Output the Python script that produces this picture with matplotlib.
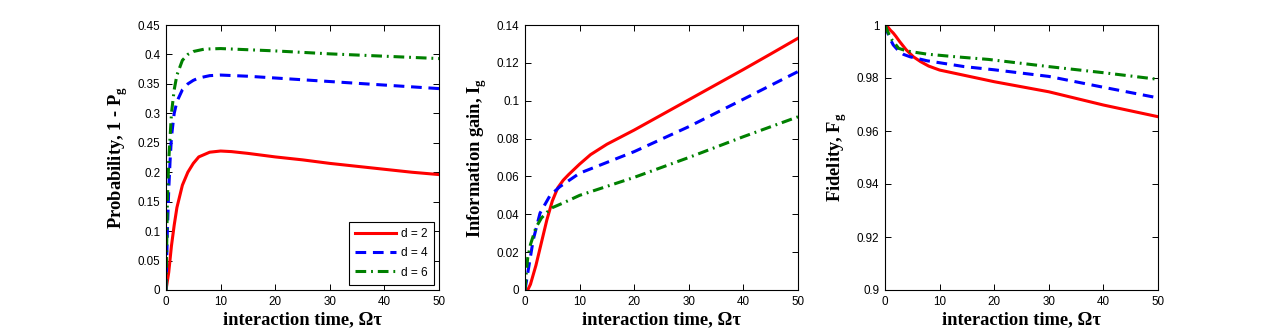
import matplotlib
matplotlib.use("Agg")
import matplotlib.pyplot as plt
import numpy as np

# ---- data ----
t_prob_d2 = [0, 0.5, 1, 1.5, 2, 3, 4, 5, 6, 8, 10, 12, 15, 20, 25, 30, 35, 40, 45, 50]
prob_d2 = [0, 0.03, 0.075, 0.11, 0.14, 0.178, 0.2, 0.215, 0.226, 0.234, 0.236, 0.235, 0.232,
           0.226, 0.221, 0.215, 0.21, 0.205, 0.2, 0.196]
t_prob_d4 = [0, 0.25, 0.5, 0.75, 1, 1.5, 2, 3, 4, 5, 6, 8, 10, 15, 20, 30, 40, 50]
prob_d4 = [0, 0.1, 0.17, 0.22, 0.26, 0.3, 0.32, 0.34, 0.35, 0.356, 0.36, 0.364, 0.365, 0.363,
           0.36, 0.354, 0.348, 0.342]
t_prob_d6 = [0, 0.25, 0.5, 1, 1.5, 2, 3, 4, 5, 7, 10, 15, 20, 30, 40, 50]
prob_d6 = [0, 0.15, 0.22, 0.3, 0.34, 0.365, 0.39, 0.4, 0.405, 0.409, 0.41, 0.408, 0.406,
           0.401, 0.397, 0.393]

t_info_d2 = [0, 0.5, 1, 2, 3, 4, 5, 6, 7, 8, 10, 12, 15, 20, 25, 30, 35, 40, 45, 50]
info_d2 = [0, 0.0, 0.003, 0.013, 0.025, 0.037, 0.047, 0.054, 0.058, 0.061, 0.0665, 0.0715,
           0.077, 0.0845, 0.0925, 0.1005, 0.1085, 0.1165, 0.1247, 0.133]
t_info_d4 = [0, 0.6, 1.5, 2.75, 4.6, 6.4, 10, 20, 30, 40, 50]
info_d4 = [0, 0.0106, 0.0264, 0.0406, 0.050, 0.0546, 0.0617, 0.0731, 0.0863, 0.1008, 0.1154]
t_info_d6 = [0, 0.25, 0.5, 1, 2, 3, 4, 5, 7, 10, 20, 30, 40, 50]
info_d6 = [0, 0.01, 0.017, 0.024, 0.033, 0.038, 0.041, 0.0435, 0.046, 0.05, 0.0595, 0.070,
           0.081, 0.0915]

t_fid_d2 = [0, 0.5, 1, 1.5, 2, 2.7, 3.9, 5.2, 6.5, 8, 10, 15, 20, 30, 40, 50]
fid_d2 = [1.0, 0.9993, 0.998, 0.997, 0.9957, 0.9937, 0.9906, 0.988, 0.9862, 0.9845, 0.983,
          0.9808, 0.9786, 0.9748, 0.9698, 0.9654]
t_fid_d4 = [0, 0.5, 1, 1.5, 2.5, 3.4, 4.6, 7.7, 10.8, 14.5, 20, 30, 40, 50]
fid_d4 = [1.0, 0.997, 0.9945, 0.9925, 0.9902, 0.9889, 0.988, 0.9865, 0.9855, 0.9843, 0.9831,
          0.9806, 0.9765, 0.9725]
t_fid_d6 = [0, 0.6, 1.3, 2.5, 3.4, 4.6, 7.7, 13, 19, 30, 40, 50]
fid_d6 = [1.0, 0.997, 0.9943, 0.9912, 0.9906, 0.990, 0.989, 0.988, 0.987, 0.9843, 0.982, 0.9795]

legend_labels = ["d = 2", "d = 4", "d = 6"]
xticks = [0, 10, 20, 30, 40, 50]
yticks_prob = [0, 0.05, 0.1, 0.15, 0.2, 0.25, 0.3, 0.35, 0.4, 0.45]
ytick_labels_prob = ["0", "0.05", "0.1", "0.15", "0.2", "0.25", "0.3", "0.35", "0.4", "0.45"]
yticks_info = [0, 0.02, 0.04, 0.06, 0.08, 0.1, 0.12, 0.14]
ytick_labels_info = ["0", "0.02", "0.04", "0.06", "0.08", "0.1", "0.12", "0.14"]
yticks_fid = [0.9, 0.92, 0.94, 0.96, 0.98, 1.0]
ytick_labels_fid = ["0.9", "0.92", "0.94", "0.96", "0.98", "1"]

# ---- style ----
plt.rcParams['font.family'] = ['Liberation Sans', 'DejaVu Sans']
plt.rcParams['mathtext.fontset'] = 'custom'
plt.rcParams['mathtext.rm'] = 'Liberation Serif'
plt.rcParams['mathtext.bf'] = 'Liberation Serif:bold'

W, H = 1278, 334
fig = plt.figure(figsize=(W / 100, H / 100), dpi=100)

lefts = [166, 525, 885]
aw, ah = 273, 265
bottom = 290

styles = [dict(color='#ff0000', ls='-'),
          dict(color='#0000ff', ls=(0, (3.5, 2.2))),
          dict(color='#008000', ls=(0, (3.5, 1.6, 0.6, 1.6)))]
lw = 2.2

label_font = dict(family=['Liberation Serif', 'DejaVu Serif'], size=13.3, weight='bold')

panels = [
    ([(t_prob_d2, prob_d2), (t_prob_d4, prob_d4), (t_prob_d6, prob_d6)],
     (0, 0.45), yticks_prob, ytick_labels_prob, r"Probability, 1 - P$_\mathbf{g}$"),
    ([(t_info_d2, info_d2), (t_info_d4, info_d4), (t_info_d6, info_d6)],
     (0, 0.14), yticks_info, ytick_labels_info, r"Information gain, I$_\mathbf{g}$"),
    ([(t_fid_d2, fid_d2), (t_fid_d4, fid_d4), (t_fid_d6, fid_d6)],
     (0.9, 1.0), yticks_fid, ytick_labels_fid, r"Fidelity, F$_\mathbf{g}$"),
]

for i, (series, ylim, yt, ytl, ylab) in enumerate(panels):
    ax = fig.add_axes([lefts[i] / W, (H - bottom) / H, aw / W, ah / H])
    for (tx, ty), st, lab in zip(series, styles, legend_labels):
        ax.plot(tx, ty, lw=lw, label=lab, **st)
    ax.set_xlim(0, 50)
    ax.set_ylim(*ylim)
    ax.set_xticks(xticks)
    ax.set_xticklabels([str(v) for v in xticks])
    ax.set_yticks(yt)
    ax.set_yticklabels(ytl)
    ax.tick_params(direction='in', top=True, right=True, length=4, width=0.7,
                   labelsize=8.4, pad=4)
    for s in ax.spines.values():
        s.set_linewidth(0.8)
    ax.set_xlabel("interaction time, Ωτ", fontdict=label_font)
    ax.xaxis.set_label_coords(0.5, -0.082)
    ax.xaxis.label.set_va('top')
    ax.set_ylabel(ylab, fontdict=label_font)
    ax.yaxis.set_label_coords(-0.132, 0.5)
    if i == 0:
        leg = ax.legend(loc='lower right', fontsize=8.6, frameon=True, fancybox=False,
                        edgecolor='black', framealpha=1, borderpad=0.5,
                        handlelength=3.4, handletextpad=0.45, labelspacing=0.6,
                        borderaxespad=0.45)
        leg.get_frame().set_linewidth(0.8)

fig.savefig("out.png", dpi=100)
